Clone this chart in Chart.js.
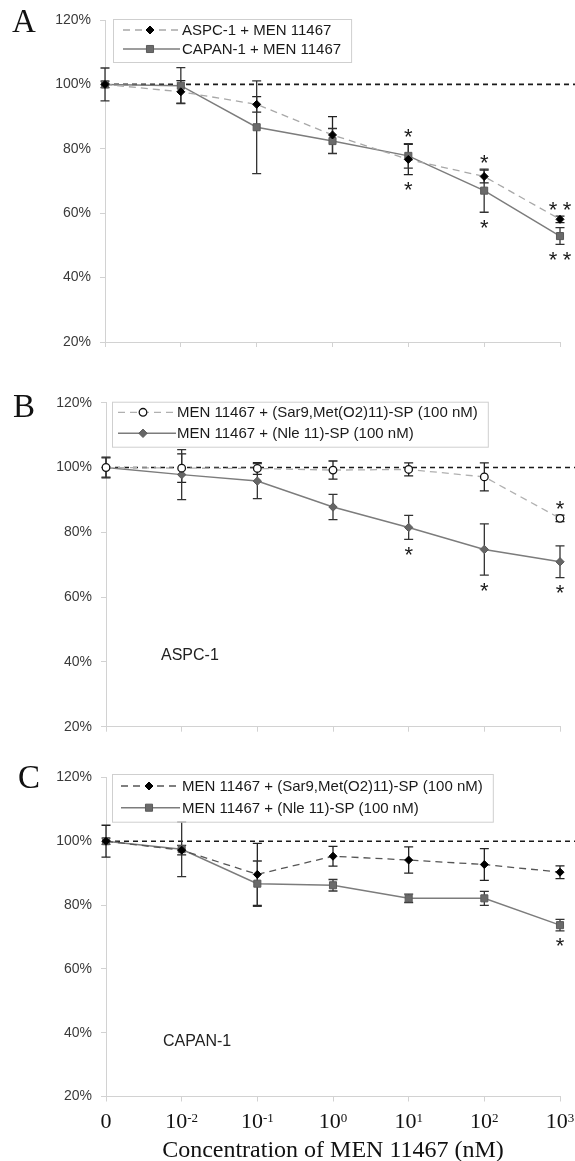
<!DOCTYPE html>
<html>
<head>
<meta charset="utf-8">
<title>MEN 11467 concentration response</title>
<script src="https://cdn.jsdelivr.net/npm/chart.js@4.4.1/dist/chart.umd.min.js"></script>
<style>
  html, body { margin: 0; padding: 0; background: #fff; overflow: hidden; }
  #page { position: relative; width: 575px; height: 1161px; }
  .panel { position: absolute; left: 0; width: 575px; }
</style>
</head>
<body>
<div id="page">
  <div class="panel" style="top:0;height:380px"><canvas id="chartA"></canvas></div>
  <div class="panel" style="top:380px;height:380px"><canvas id="chartB"></canvas></div>
  <div class="panel" style="top:760px;height:401px"><canvas id="chartC"></canvas></div>
</div>
<script>
// x categories (MEN 11467, nM) and y ticks (% of control)
const concentrations = ["0", "10^-2", "10^-1", "10^0", "10^1", "10^2", "10^3"];
const yTicks = [20, 40, 60, 80, 100, 120];

// A: MEN 11467 alone on both cell lines
const aspcA = [100, 97.7, 93.8, 84.3, 76.7, 71.4, 58.1];
const aspcAErr = [1, 3.5, 2.4, 5.7, 4.7, 2, 1];
const aspcAStars = ["", "", "", "", "*", "*", "**"];
const capanA = [100, 99.6, 86.7, 82.4, 77.8, 67, 52.9];
const capanAErr = [5.1, 5.6, 14.4, 3.9, 3.8, 6.7, 2.6];
const capanAStars = ["", "", "", "", "*", "*", "**"];

// B: ASPC-1
const sarB = [100, 99.8, 99.7, 99.2, 99.4, 97.1, 84.3];
const sarBErr = [3.2, 4.4, 1.8, 2.8, 2, 4.3, 1];
const sarBStars = ["", "", "", "", "", "", "*"];
const nleB = [100, 97.8, 95.8, 87.8, 81.5, 74.7, 70.9];
const nleBErr = [3, 7.7, 5.4, 3.9, 3.7, 7.9, 4.9];
const nleBStars = ["", "", "", "", "*", "*", "*"];

// C: CAPAN-1
const sarC = [100, 97.2, 89.6, 95.3, 94.1, 92.7, 90.3];
const sarCErr = [5, 1.5, 9.7, 3.1, 4.1, 5, 2];
const sarCStars = ["", "", "", "", "", "", ""];
const nleC = [100, 97.5, 86.7, 86.2, 82.1, 82.1, 73.7];
const nleCErr = [1, 8.6, 7.1, 1.8, 1.3, 2.2, 1.8];
const nleCStars = ["", "", "", "", "", "", "*"];

const SANS = '"Liberation Sans", Arial, sans-serif';
const SERIF = '"Liberation Serif", "Times New Roman", serif';
Chart.defaults.font.family = SANS;

function drawMarker(ctx, ds, x, y) {
  const r = ds.pointRadius;
  ctx.beginPath();
  if (ds.pointStyle === "rect") {
    const s = r * Math.SQRT1_2;
    ctx.rect(x - s, y - s, 2 * s, 2 * s);
  } else if (ds.pointStyle === "rectRot") {
    ctx.moveTo(x, y - r); ctx.lineTo(x + r, y); ctx.lineTo(x, y + r); ctx.lineTo(x - r, y); ctx.closePath();
  } else {
    ctx.arc(x, y, r, 0, Math.PI * 2);
  }
  ctx.fillStyle = ds.pointBackgroundColor;
  ctx.fill();
  ctx.strokeStyle = ds.pointBorderColor;
  ctx.lineWidth = ds.pointBorderWidth || 1;
  ctx.stroke();
}

function drawStars(ctx, s, x, y) {
  ctx.font = "22px " + SANS;
  ctx.textAlign = "center";
  ctx.textBaseline = "middle";
  ctx.fillStyle = "#1a1a1a";
  for (let k = 0; k < s.length; k++) {
    ctx.fillText("*", x + (k - (s.length - 1) / 2) * 14, y + 5.5);
  }
}

function drawLegend(chart, lg) {
  const ctx = chart.ctx;
  const sets = chart.data.datasets;
  ctx.font = "15px " + SANS;
  const textW = Math.max(...sets.map(d => ctx.measureText(d.label).width));
  const w = lg.textX + textW + 10 - lg.x;
  ctx.fillStyle = "#fff";
  ctx.fillRect(lg.x, lg.y, w, lg.h);
  ctx.strokeStyle = "#cfcfcf";
  ctx.lineWidth = 1;
  ctx.strokeRect(lg.x + 0.5, lg.y + 0.5, w, lg.h);
  sets.forEach((ds, i) => {
    const ry = lg.y + lg.rows[i];
    ctx.strokeStyle = ds.borderColor;
    ctx.lineWidth = ds.borderWidth;
    ctx.setLineDash(ds.borderDash || []);
    ctx.beginPath(); ctx.moveTo(lg.lineX0, ry); ctx.lineTo(lg.lineX1, ry); ctx.stroke();
    ctx.setLineDash([]);
    drawMarker(ctx, ds, lg.markX, ry);
    ctx.fillStyle = "#1a1a1a";
    ctx.font = "15px " + SANS;
    ctx.textAlign = "left";
    ctx.textBaseline = "middle";
    ctx.fillText(ds.label, lg.textX, ry + 1);
  });
}

const extras = {
  id: "extras",
  beforeDatasetsDraw(chart) {
    const { ctx, chartArea, scales: { x, y } } = chart;
    ctx.save();
    // control level
    const y100 = y.getPixelForValue(100);
    ctx.strokeStyle = "#1a1a1a"; ctx.lineWidth = 1.6; ctx.setLineDash([5, 4]);
    ctx.beginPath(); ctx.moveTo(chartArea.left, y100); ctx.lineTo(chart.width, y100); ctx.stroke();
    ctx.setLineDash([]);
    // error bars
    chart.data.datasets.forEach(ds => {
      ctx.strokeStyle = ds.errColor;
      ctx.lineWidth = 1.3;
      ds.data.forEach((v, i) => {
        const px = x.getPixelForValue(i);
        const top = y.getPixelForValue(v + ds.errors[i]);
        const bot = y.getPixelForValue(v - ds.errors[i]);
        ctx.beginPath();
        ctx.moveTo(px, top); ctx.lineTo(px, bot);
        ctx.moveTo(px - 4.5, top); ctx.lineTo(px + 4.5, top);
        ctx.moveTo(px - 4.5, bot); ctx.lineTo(px + 4.5, bot);
        ctx.stroke();
      });
    });
    ctx.restore();
  },
  afterDatasetsDraw(chart, args, opts) {
    const { ctx, chartArea, scales: { x, y } } = chart;
    const sets = chart.data.datasets;
    ctx.save();
    // significance marks
    concentrations.forEach((c, i) => {
      const px = x.getPixelForValue(i);
      const tops = sets.map(d => d.data[i] + d.errors[i]);
      const bots = sets.map(d => d.data[i] - d.errors[i]);
      sets.forEach(ds => {
        const s = ds.stars[i];
        if (!s) return;
        const py = ds.starSide === "above"
          ? y.getPixelForValue(Math.max(...tops)) - 11
          : y.getPixelForValue(Math.min(...bots)) + 11;
        drawStars(ctx, s, px, py);
      });
    });
    drawLegend(chart, opts.legend);
    // panel letter
    ctx.fillStyle = "#111";
    ctx.font = "33px " + SERIF;
    ctx.textAlign = "left";
    ctx.textBaseline = "alphabetic";
    ctx.fillText(opts.letter, opts.letterX, opts.letterY);
    // cell line note
    if (opts.note) {
      ctx.font = "16px " + SANS;
      ctx.fillStyle = "#222";
      ctx.textBaseline = "middle";
      ctx.fillText(opts.note, opts.noteX, opts.noteY);
    }
    // x tick labels with exponents
    if (opts.xLabels) {
      const base = chartArea.bottom + 31.5;
      ctx.fillStyle = "#111";
      ctx.textBaseline = "alphabetic";
      ctx.textAlign = "left";
      concentrations.forEach((lab, i) => {
        const px = x.getPixelForValue(i);
        const [b, e] = lab.split("^");
        ctx.font = "22px " + SERIF;
        const wb = ctx.measureText(b).width;
        ctx.font = "13px " + SERIF;
        const we = e ? ctx.measureText(e).width : 0;
        const sx = px - (wb + we) / 2;
        ctx.font = "22px " + SERIF;
        ctx.fillText(b, sx, base);
        if (e) {
          ctx.font = "13px " + SERIF;
          ctx.fillText(e, sx + wb, base - 6);
        }
      });
    }
    ctx.restore();
  }
};

function makePanel(id, datasets, p) {
  return new Chart(document.getElementById(id), {
    type: "line",
    data: { labels: concentrations, datasets: datasets },
    options: {
      responsive: true,
      maintainAspectRatio: false,
      animation: false,
      layout: { padding: { top: p.padTop, right: 15, left: 0, bottom: 0 } },
      plugins: { legend: { display: false }, tooltip: { enabled: false }, extras: p.extras },
      scales: {
        x: {
          type: "category",
          offset: false,
          border: { color: "#d2d2d2" },
          grid: { drawOnChartArea: false, color: "#d2d2d2", tickLength: 5, offset: false },
          ticks: { display: false },
          title: p.title
            ? { display: true, text: p.title, color: "#111", font: { family: SERIF, size: 24, lineHeight: 0.83 }, padding: { top: 0, bottom: 0 } }
            : { display: false },
          afterFit: s => { s.height = p.xHeight; }
        },
        y: {
          min: 20,
          max: 120,
          afterBuildTicks: s => { s.ticks = yTicks.map(v => ({ value: v })); },
          ticks: { callback: v => v + "%", color: "#3a3a3a", font: { family: SANS, size: 14 }, padding: 9 },
          border: { color: "#d2d2d2" },
          grid: { drawOnChartArea: false, color: "#d2d2d2", tickLength: 5 },
          afterFit: s => { s.width = p.yWidth; }
        }
      }
    },
    plugins: [extras]
  });
}

const blackDiamond = { pointStyle: "rectRot", pointRadius: 4, pointBackgroundColor: "#000", pointBorderColor: "#000", pointBorderWidth: 1, errColor: "#222" };
const greySquare = { pointStyle: "rect", pointRadius: 5, pointBackgroundColor: "#6a6a6a", pointBorderColor: "#5a5a5a", pointBorderWidth: 1, errColor: "#333" };
const greyDiamond = { pointStyle: "rectRot", pointRadius: 4.2, pointBackgroundColor: "#666", pointBorderColor: "#5a5a5a", pointBorderWidth: 1, errColor: "#333" };
const openCircle = { pointStyle: "circle", pointRadius: 3.8, pointBackgroundColor: "#fff", pointBorderColor: "#111", pointBorderWidth: 1.3, errColor: "#222" };
const common = { tension: 0, clip: false, pointHoverRadius: 0 };

makePanel("chartA", [
  Object.assign({ label: "ASPC-1 + MEN 11467", data: aspcA, errors: aspcAErr, stars: aspcAStars, starSide: "above",
    borderColor: "#a8a8a8", borderWidth: 1.3, borderDash: [7, 5] }, blackDiamond, common),
  Object.assign({ label: "CAPAN-1 + MEN 11467", data: capanA, errors: capanAErr, stars: capanAStars, starSide: "below",
    borderColor: "#7c7c7c", borderWidth: 1.5, borderDash: [] }, greySquare, common)
], {
  padTop: 20, xHeight: 38, yWidth: 105,
  extras: { letter: "A", letterX: 12, letterY: 32,
    legend: { x: 113, y: 19, h: 43, rows: [11, 30], lineX0: 123, lineX1: 180, markX: 150, textX: 182 } }
});

makePanel("chartB", [
  Object.assign({ label: "MEN 11467 + (Sar9,Met(O2)11)-SP (100 nM)", data: sarB, errors: sarBErr, stars: sarBStars, starSide: "above",
    borderColor: "#b0b0b0", borderWidth: 1.3, borderDash: [7, 5] }, openCircle, common),
  Object.assign({ label: "MEN 11467 + (Nle 11)-SP (100 nM)", data: nleB, errors: nleBErr, stars: nleBStars, starSide: "below",
    borderColor: "#7c7c7c", borderWidth: 1.5, borderDash: [] }, greyDiamond, common)
], {
  padTop: 22.7, xHeight: 33.3, yWidth: 106,
  extras: { letter: "B", letterX: 13, letterY: 36.7, note: "ASPC-1", noteX: 161, noteY: 276,
    legend: { x: 112, y: 21.7, h: 45, rows: [10.6, 31.6], lineX0: 118, lineX1: 176, markX: 143, textX: 177 } }
});

makePanel("chartC", [
  Object.assign({ label: "MEN 11467 + (Sar9,Met(O2)11)-SP (100 nM)", data: sarC, errors: sarCErr, stars: sarCStars, starSide: "above",
    borderColor: "#555", borderWidth: 1.3, borderDash: [7, 5] }, blackDiamond, common),
  Object.assign({ label: "MEN 11467 + (Nle 11)-SP (100 nM)", data: nleC, errors: nleCErr, stars: nleCStars, starSide: "below",
    borderColor: "#7c7c7c", borderWidth: 1.5, borderDash: [] }, greySquare, common)
], {
  padTop: 15, xHeight: 64.5, yWidth: 106, title: "Concentration of MEN 11467 (nM)",
  extras: { letter: "C", letterX: 18, letterY: 28, note: "CAPAN-1", noteX: 163, noteY: 281.7, xLabels: true,
    legend: { x: 112, y: 14, h: 47.7, rows: [12, 33.7], lineX0: 121, lineX1: 180, markX: 149, textX: 182 } }
});
</script>
</body>
</html>
